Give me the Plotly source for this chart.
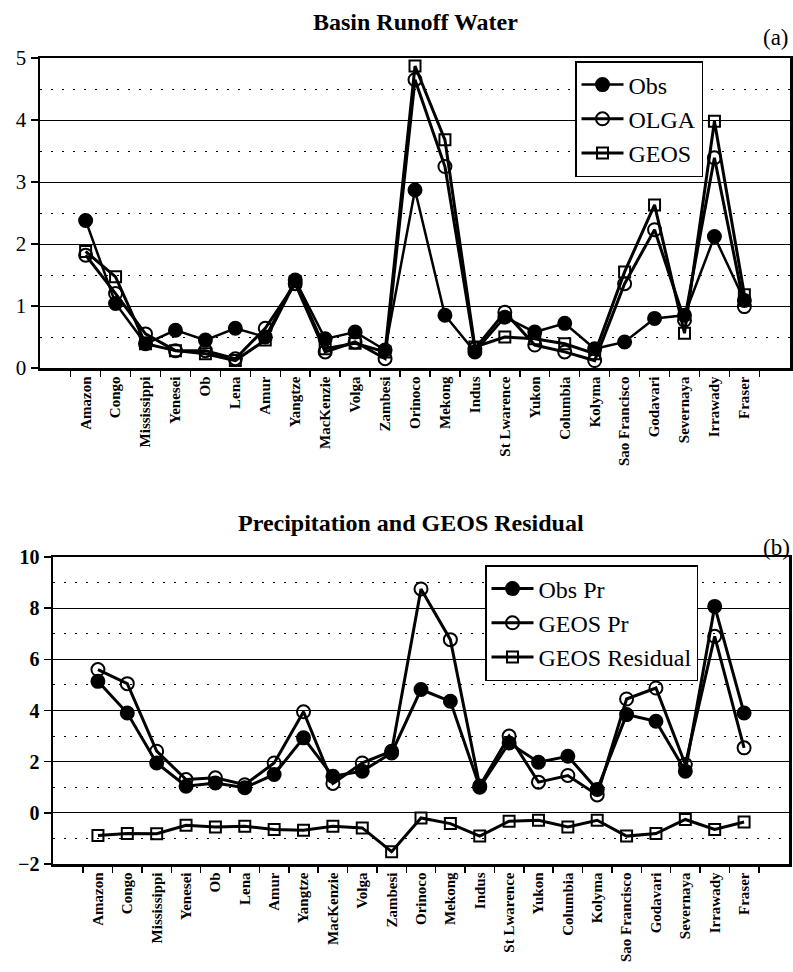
import plotly.graph_objects as go

rivers = ["Amazon", "Congo", "Mississippi", "Yenesei", "Ob", "Lena", "Amur", "Yangtze",
          "MacKenzie", "Volga", "Zambesi", "Orinoco", "Mekong", "Indus", "St Lwarence",
          "Yukon", "Columbia", "Kolyma", "Sao Francisco", "Godavari", "Severnaya",
          "Irrawady", "Fraser"]

# (a) Basin runoff water
obs_runoff = [2.38, 1.04, 0.39, 0.61, 0.45, 0.64, 0.50, 1.42, 0.47, 0.58, 0.29,
              2.87, 0.85, 0.26, 0.82, 0.58, 0.72, 0.31, 0.42, 0.80, 0.85, 2.12, 1.09]
olga_runoff = [1.82, 1.20, 0.55, 0.28, 0.28, 0.15, 0.64, 1.36, 0.26, 0.42, 0.15,
               4.65, 3.25, 0.31, 0.90, 0.37, 0.26, 0.12, 1.36, 2.23, 0.77, 3.39, 0.99]
geos_runoff = [1.88, 1.47, 0.39, 0.28, 0.23, 0.12, 0.45, 1.39, 0.31, 0.40, 0.26,
               4.87, 3.68, 0.34, 0.50, 0.47, 0.39, 0.23, 1.55, 2.63, 0.56, 3.98, 1.18]

# (b) Precipitation and GEOS residual
obs_pr = [5.14, 3.90, 1.95, 1.04, 1.17, 0.98, 1.50, 2.93, 1.43, 1.63, 2.34,
          4.82, 4.36, 1.00, 2.73, 1.98, 2.21, 0.91, 3.84, 3.58, 1.63, 8.07, 3.90]
geos_pr = [5.60, 5.05, 2.41, 1.30, 1.37, 1.10, 1.95, 3.95, 1.15, 1.95, 2.41,
           8.75, 6.77, 1.05, 3.00, 1.20, 1.46, 0.70, 4.45, 4.88, 1.89, 6.90, 2.54]
geos_resid = [-0.89, -0.81, -0.82, -0.49, -0.55, -0.52, -0.65, -0.68, -0.52, -0.59, -1.52,
              -0.20, -0.42, -0.91, -0.33, -0.29, -0.55, -0.29, -0.91, -0.81, -0.26, -0.65, -0.36]

SERIF = "Liberation Serif, Times New Roman, serif"
W, H = 793, 972

fig = go.Figure()

def add(y, name, symbol, xa, ya, legend, lw=3, size=12):
    fig.add_trace(go.Scatter(
        x=rivers, y=y, name=name, mode="lines+markers",
        line=dict(color="black", width=lw),
        marker=dict(symbol=symbol, size=size, color="black",
                    line=dict(color="black", width=2)),
        xaxis=xa, yaxis=ya, legend=legend))

add(obs_runoff, "Obs", "circle", "x", "y", "legend", lw=2.5, size=13)
add(olga_runoff, "OLGA", "circle-open", "x", "y", "legend", size=13)
add(geos_runoff, "GEOS", "square-open", "x", "y", "legend", size=11)

add(obs_pr, "Obs Pr", "circle", "x2", "y2", "legend2", size=13)
add(geos_pr, "GEOS Pr", "circle-open", "x2", "y2", "legend2", size=13)
add(geos_resid, "GEOS Residual", "square-open", "x2", "y2", "legend2", size=11)

xcommon = dict(type="category", categoryorder="array", categoryarray=rivers,
               tickangle=-90, tickson="boundaries", ticks="outside", ticklen=6,
               tickwidth=1.5, tickcolor="black", showgrid=False,
               showline=True, linecolor="black", linewidth=2.5, mirror=True,
               tickfont=dict(family=SERIF, size=15, color="black", weight="bold"),
               fixedrange=True)
ycommon = dict(ticks="outside", ticklen=7, tickwidth=1.5, tickcolor="black",
               showgrid=True, gridcolor="black", gridwidth=1,
               showline=True, linecolor="black", linewidth=2.5, mirror=True,
               zeroline=False, fixedrange=True)

fig.update_layout(
    width=W, height=H, autosize=False,
    margin=dict(l=0, r=0, t=0, b=0),
    template="none",
    paper_bgcolor="white", plot_bgcolor="white",
    showlegend=True,
    xaxis=dict(domain=[40 / W, 790 / W], anchor="y", **xcommon),
    yaxis=dict(domain=[1 - 368 / H, 1 - 58 / H], anchor="x", range=[0, 5],
               dtick=1, tick0=0,
               minor=dict(dtick=0.5, showgrid=True, griddash="2px,9px",
                          gridcolor="black", gridwidth=1),
               tickfont=dict(family=SERIF, size=21, color="black"),
               **ycommon),
    xaxis2=dict(domain=[53 / W, 789 / W], anchor="y2", **xcommon),
    yaxis2=dict(domain=[1 - 864 / H, 1 - 557 / H], anchor="x2", range=[-2, 10],
                dtick=2, tick0=0,
                minor=dict(dtick=1, showgrid=True, griddash="2px,9px",
                           gridcolor="black", gridwidth=1),
                tickfont=dict(family=SERIF, size=20, color="black", weight="bold"),
                **ycommon),
    legend=dict(x=575 / W, y=1 - 61 / H, xanchor="left", yanchor="top",
                bordercolor="black", borderwidth=1.5, bgcolor="white",
                font=dict(family=SERIF, size=24, color="black"),
                itemwidth=42, tracegroupgap=0),
    legend2=dict(x=485 / W, y=1 - 565 / H, xanchor="left", yanchor="top",
                 bordercolor="black", borderwidth=1.5, bgcolor="white",
                 font=dict(family=SERIF, size=24, color="black"),
                 itemwidth=42, tracegroupgap=0),
    annotations=[
        dict(text="<b>Basin Runoff Water</b>", x=415 / W, y=1 - 22 / H,
             xanchor="center", yanchor="middle",
             xref="paper", yref="paper", showarrow=False,
             font=dict(family=SERIF, size=24, color="black")),
        dict(text="(a)", x=791 / W, y=1 - 37 / H, xanchor="right", yanchor="middle",
             xref="paper", yref="paper", showarrow=False,
             font=dict(family=SERIF, size=23, color="black")),
        dict(text="<b>Precipitation and GEOS Residual</b>", x=411 / W, y=1 - 523 / H,
             xanchor="center", yanchor="middle",
             xref="paper", yref="paper", showarrow=False,
             font=dict(family=SERIF, size=24, color="black")),
        dict(text="(b)", x=792 / W, y=1 - 547 / H, xanchor="right", yanchor="middle",
             xref="paper", yref="paper", showarrow=False,
             font=dict(family=SERIF, size=23, color="black")),
    ],
)

fig.write_html("out.html",
               config={"displayModeBar": False, "staticPlot": True},
               post_script="document.body.style.margin='0px';"
                           "document.body.style.overflow='hidden';")
